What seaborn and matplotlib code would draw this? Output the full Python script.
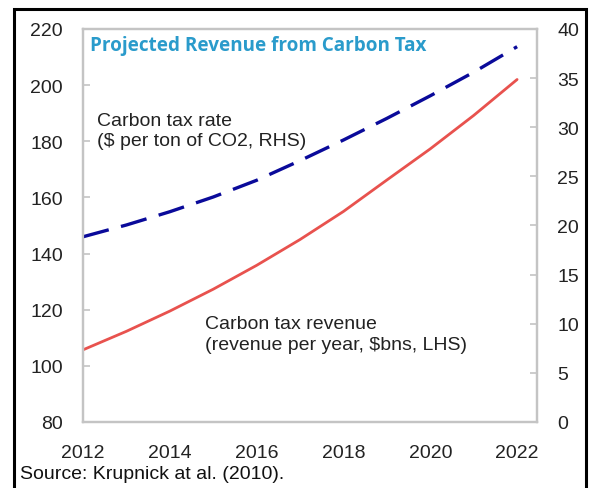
import numpy as np
import pandas as pd
import seaborn as sns
import matplotlib.pyplot as plt
from matplotlib.patches import Rectangle

# Data
years = [2012, 2013, 2014, 2015, 2016, 2017, 2018, 2019, 2020, 2021, 2022]
revenue = [105.7, 112.3, 119.5, 127.3, 135.8, 145.0, 155.0, 166.2, 177.3, 189.2, 202.0]  # $bns, LHS
tax_rate = [18.85, 20.05, 21.4, 22.9, 24.6, 26.6, 28.7, 30.9, 33.2, 35.6, 38.2]  # $/t CO2, RHS

left_ticks = [80, 100, 120, 140, 160, 180, 200, 220]
right_ticks = [0, 5, 10, 15, 20, 25, 30, 35, 40]
x_ticks = [2012, 2014, 2016, 2018, 2020, 2022]

df = pd.DataFrame({'Ano': years, 'Receita': revenue, 'Taxa': tax_rate})

sns.set_style("white")
plt.rcParams['font.family'] = ['Liberation Sans', 'DejaVu Sans']

fig = plt.figure(figsize=(5.92, 4.89), dpi=100)
ax = fig.add_axes([0.1402, 0.135, 0.767, 0.8037])
ax2 = ax.twinx()

# Linhas
sns.lineplot(data=df, x='Ano', y='Receita', ax=ax, color='#E8524E', linewidth=2.0)
sns.lineplot(data=df, x='Ano', y='Taxa', ax=ax2, color='#0A0A9A', linewidth=2.4)
ax2.lines[0].set_dashes((8, 3.8))

# Eixos
ax.set_xlim(2012, 2022.46)
ax.set_ylim(80, 220)
ax2.set_ylim(0, 40)
ax.set_xticks(x_ticks)
ax.set_yticks(left_ticks)
ax2.set_yticks(right_ticks)
ax.set_xlabel('')
ax.set_ylabel('')
ax2.set_ylabel('')

spine_col = '#C4C4C4'
for a in (ax, ax2):
    for s in a.spines.values():
        s.set_color(spine_col)
        s.set_linewidth(1.6)
ax.tick_params(axis='x', direction='out', length=5, width=1.2, color=spine_col,
               labelsize=14, labelcolor='#222222', pad=11)
ax.tick_params(axis='y', direction='in', length=5, width=1.2, color=spine_col,
               labelsize=14, labelcolor='#222222', pad=14.5, left=True)
ax2.tick_params(axis='y', direction='in', length=5, width=1.2, color=spine_col,
                labelsize=14, labelcolor='#222222', pad=14.5, right=True)

# Textos
ax.text(0.016, 0.985, 'Projected Revenue from Carbon Tax', transform=ax.transAxes,
        fontsize=13.6, fontweight='bold', color='#2A9BCB', family=['Open Sans', 'DejaVu Sans'],
        va='top', ha='left')
ax.text(2012.33, 190.6, 'Carbon tax rate\n($ per ton of CO2, RHS)', fontsize=14,
        color='#222222', va='top', ha='left', linespacing=1.3)
ax.text(2014.8, 118.2, 'Carbon tax revenue\n(revenue per year, $bns, LHS)', fontsize=14,
        color='#222222', va='top', ha='left', linespacing=1.3)
fig.text(20 / 592, 1 - 479 / 489, 'Source: Krupnick at al. (2010).', fontsize=14,
         color='#111111', va='baseline', ha='left')

# Moldura externa
fig.patches.append(Rectangle((14 / 592, -0.05), 572 / 592, 1.05 - 10 / 489,
                             transform=fig.transFigure, fill=False,
                             edgecolor='black', linewidth=2.2, clip_on=False))

plt.savefig('out.png', dpi=100)
